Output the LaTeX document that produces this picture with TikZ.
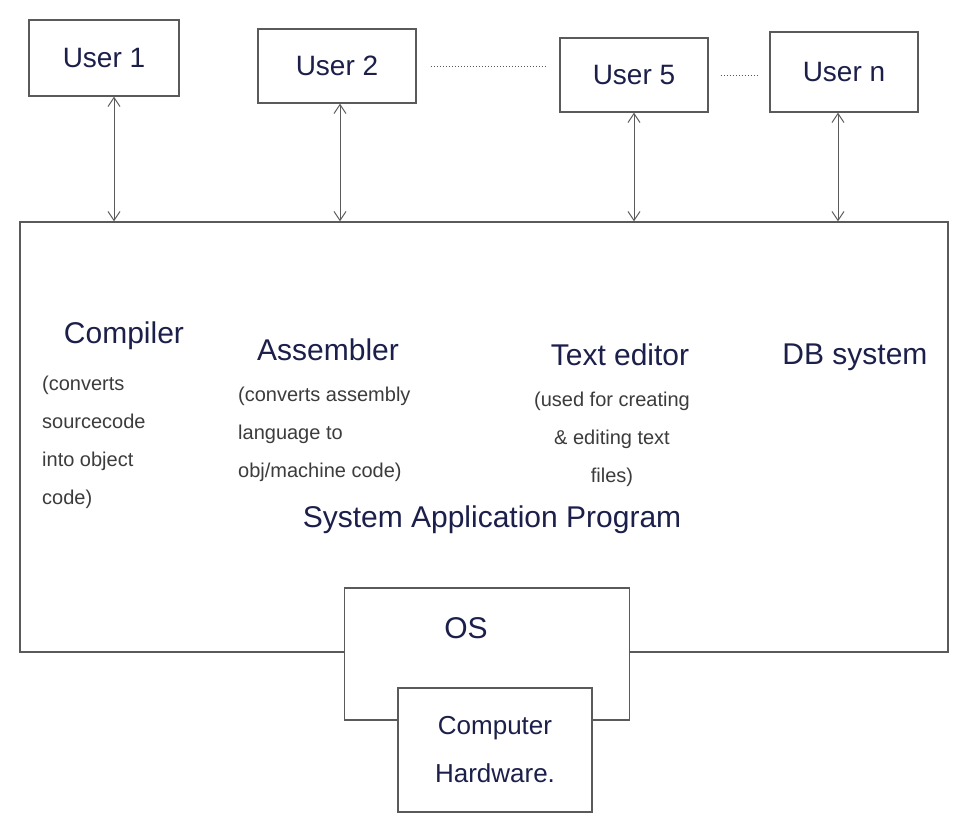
\documentclass[tikz,border=0pt]{standalone}
\usepackage{fontspec}
\setmainfont{Liberation Sans}
\usetikzlibrary{arrows.meta,calc}
\definecolor{ink}{HTML}{1B1F4A}
\definecolor{pencil}{HTML}{3C3C3C}
\definecolor{edge}{HTML}{5A5A5A}
\tikzset{
  box/.style={draw=edge, line width=1.3pt, fill=white, inner sep=0pt},
  userbox/.style={box, font=\fontsize{28}{32}\selectfont, text=ink},
  label/.style={font=\fontsize{30}{34}\selectfont, text=ink, inner sep=0pt},
  desc/.style={font=\fontsize{20}{38}\selectfont, text=pencil, inner sep=0pt},
  biarrow/.style={draw=edge, line width=1pt, {Straight Barb[length=9pt,width=12pt]}-{Straight Barb[length=9pt,width=12pt]}},
  dots/.style={draw=edge, line width=1pt, dotted}
}
\begin{document}
\begin{tikzpicture}[x=1pt,y=-1pt]
\useasboundingbox (0,0) rectangle (954,820);
\fill[white] (0,0) rectangle (954,820);
% users
\node[userbox, minimum width=150, minimum height=76] (u1) at (104,58) {User 1};
\node[userbox, minimum width=158, minimum height=74] (u2) at (337,66) {User 2};
\node[userbox, minimum width=148, minimum height=74] (u5) at (634,75) {User 5};
\node[userbox, minimum width=148, minimum height=80] (un) at (844,72) {User n};
% main box
\node[box, minimum width=928, minimum height=430] (sys) at (484,437) {};
% connectors
\draw[biarrow] ([xshift=10]u1.south) -- ([xshift=10]u1.south |- sys.north);
\draw[biarrow] ([xshift=3]u2.south) -- ([xshift=3]u2.south |- sys.north);
\draw[biarrow] (u5.south) -- (u5.south |- sys.north);
\draw[biarrow] ([xshift=-6]un.south) -- ([xshift=-6]un.south |- sys.north);
\draw[dots] ([xshift=14]u2.east) -- ([xshift=-14]u5.west |- u2.east);
\draw[dots] ([xshift=12]u5.east) -- ([xshift=-12]un.west |- u5.east);
% application labels
\node[label] (comp) at (124,336) {Compiler};
\node[desc, anchor=north west, align=left] (compd) at (42,376) {(converts\\sourcecode\\into object\\code)};
\node[label] (asm) at (328,350) {Assembler};
\node[desc, anchor=north west, align=left] (asmd) at (238,387) {(converts assembly\\language to\\obj/machine code)};
\node[label] (ted) at (620,355) {Text editor};
\node[desc, anchor=north, align=center] (tedd) at (612,392) {(used for creating\\\& editing text\\files)};
\node[label] (db) at (855,357) {DB system};
\node[label] (sap) at (492,520) {System Application Program};
% OS and hardware
\node[box, minimum width=285, minimum height=132] (os) at (487,654) {};
\node[label] (ostxt) at (466,628) {OS};
\node[box, minimum width=194, minimum height=124, label, align=center, font=\fontsize{26}{48}\selectfont] (hw) at (495,750) {Computer\\Hardware.};
\end{tikzpicture}
\end{document}
